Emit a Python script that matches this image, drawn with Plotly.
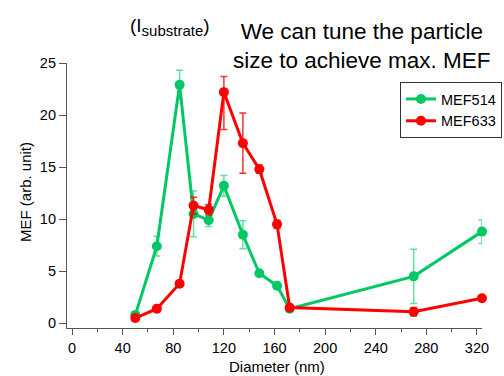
import plotly.graph_objects as go

diameter = [50, 67, 85, 96, 108, 120, 135, 148, 162, 172, 270, 324]
mef514 = [0.8, 7.4, 22.9, 10.5, 9.9, 13.2, 8.5, 4.8, 3.6, 1.4, 4.5, 8.8]
mef514_err = [0.2, 0.95, 1.4, 2.2, 0.6, 1.0, 1.35, 0.0, 0.0, 0.2, 2.6, 1.15]
mef633 = [0.5, 1.4, 3.8, 11.3, 10.9, 22.2, 17.3, 14.8, 9.5, 1.5, 1.1, 2.4]
mef633_err_plus = [0.3, 0.2, 0.2, 0.8, 0.5, 1.5, 2.9, 0.4, 0.4, 0.1, 0.4, 0.2]
mef633_err_minus = [0.3, 0.2, 0.2, 0.8, 0.5, 3.6, 2.9, 0.4, 0.4, 0.1, 0.4, 0.2]

GREEN = "rgb(0,200,100)"
RED = "rgb(255,0,0)"
FONT = "Liberation Sans, Arial, sans-serif"

fig = go.Figure()
fig.add_trace(go.Scatter(
    x=diameter, y=mef514, name="MEF514", mode="lines+markers",
    line=dict(color=GREEN, width=3), marker=dict(color=GREEN, size=10),
    error_y=dict(type="data", array=mef514_err, color="rgba(0,200,100,0.6)",
                 thickness=1.5, width=3.5),
    cliponaxis=False,
))
fig.add_trace(go.Scatter(
    x=diameter, y=mef633, name="MEF633", mode="lines+markers",
    line=dict(color=RED, width=3), marker=dict(color=RED, size=10),
    error_y=dict(type="data", symmetric=False, array=mef633_err_plus,
                 arrayminus=mef633_err_minus, color="rgba(240,0,0,0.8)",
                 thickness=1.5, width=3.5),
    cliponaxis=False,
))

fig.update_layout(
    width=504, height=376,
    margin=dict(l=67, r=22, t=63, b=48, pad=0, autoexpand=False),
    paper_bgcolor="white", plot_bgcolor="white",
    font=dict(family=FONT, color="black", size=14),
    showlegend=True,
    legend=dict(x=(502 - 67) / (482 - 67), y=(328 - 82) / (328 - 63),
                xanchor="right", yanchor="top",
                bordercolor="#333", borderwidth=1, bgcolor="white",
                font=dict(size=14.5, family=FONT), tracegroupgap=0,
                itemwidth=30),
    xaxis=dict(range=[-4, 324], tickvals=[0, 40, 80, 120, 160, 200, 240, 280, 320],
               showline=True, linecolor="#555", linewidth=1.2,
               ticks="outside", ticklen=6, tickcolor="#555", tickwidth=1.2,
               tickfont=dict(size=14.5), showgrid=False, zeroline=False,
               minor=dict(tickvals=[20, 60, 100, 140, 180, 220, 260, 300],
                          ticks="outside", ticklen=3, tickcolor="#555", tickwidth=1.2)),
    yaxis=dict(range=[-0.46, 25], tickvals=[0, 5, 10, 15, 20, 25],
               showline=True, linecolor="#555", linewidth=1.2,
               ticks="outside", ticklen=7, tickcolor="#555", tickwidth=1.2,
               tickfont=dict(size=14.5), showgrid=False, zeroline=False),
)

fig.add_annotation(text="Diameter (nm)", xref="paper", yref="paper",
                   x=(277 - 67) / (482 - 67), y=-(366 - 328) / (328 - 63),
                   xanchor="center", yanchor="middle", showarrow=False,
                   font=dict(size=15))
fig.add_annotation(text="MEF (arb. unit)", xref="paper", yref="paper",
                   x=-(67 - 25) / (482 - 67), y=(328 - 192) / (328 - 63),
                   xanchor="center", yanchor="middle", textangle=-90, showarrow=False,
                   font=dict(size=15))
fig.add_annotation(text="We can tune the particle<br>size to achieve max. MEF",
                   xref="paper", yref="paper",
                   x=(362 - 67) / (482 - 67), y=(328 - 46) / (328 - 63),
                   xanchor="center", yanchor="middle", showarrow=False,
                   font=dict(size=22.5))
fig.add_annotation(text="(I<sub><span style=\"font-size:15px\">substrate</span></sub>)",
                   xref="paper", yref="paper",
                   x=(170 - 67) / (482 - 67), y=(328 - 27) / (328 - 63),
                   xanchor="center", yanchor="middle", showarrow=False,
                   font=dict(size=19))

fig.write_html("out.html", config={"displayModeBar": False},
               post_script="document.body.style.margin='0';document.body.style.padding='0';")
